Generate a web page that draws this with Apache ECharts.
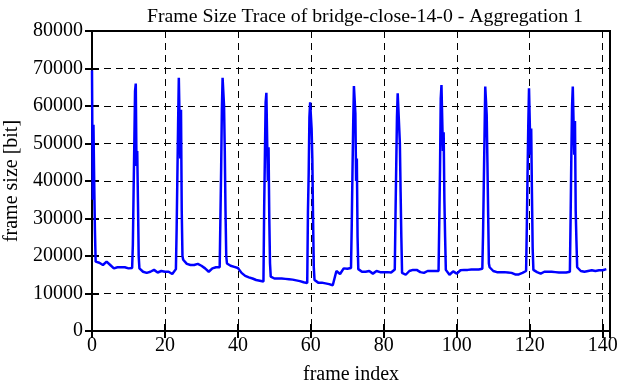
<!DOCTYPE html>
<html>
<head>
<meta charset="utf-8">
<script src="https://cdn.jsdelivr.net/npm/echarts@6/dist/echarts.min.js"></script>
<style>
	html, body { margin: 0; padding: 0; background: #fff; }
	#trace_chart { width: 622px; height: 382px; }
</style>
</head>
<body>
<div id="trace_chart"></div>
<script>
// frame size [bit] at each integer frame index 0..141
var frameSizes = [
	69500, 18500, 18200, 17600, 18500, 17600, 16700, 17000, 17000, 17000,
	16700, 16800, 66000, 16700, 15800, 15500, 15800, 16300, 15600, 16000,
	15800, 15800, 15200, 16500, 67500, 19000, 17900, 17600, 17600, 17900,
	17400, 16700, 15800, 16700, 17000, 17000, 67500, 18000, 17400, 17100,
	16800, 15500, 14700, 14300, 14000, 13600, 13400, 13200, 63500, 14500,
	14000, 14000, 14000, 13900, 13800, 13700, 13500, 13300, 13000, 12800,
	61000, 13600, 12900, 12900, 12700, 12500, 12200, 16000, 15200, 16700,
	16600, 16800, 65300, 16500, 15800, 15800, 16000, 15300, 16000, 15700,
	15700, 15700, 15600, 16400, 63400, 15500, 15000, 16000, 16300, 16300,
	15700, 15500, 16000, 16000, 16000, 16000, 65600, 16300, 15000, 15900,
	15300, 16200, 16300, 16300, 16400, 16400, 16400, 16600, 65200, 17000,
	16000, 15700, 15700, 15700, 15600, 15500, 15100, 15100, 15500, 16000,
	64700, 16300, 15700, 15300, 15800, 15800, 15800, 15700, 15600, 15600,
	15600, 15800, 65200, 17000, 16000, 15800, 16000, 16200, 16000, 16200,
	16200, 16500
];

// I-frame peaks are sampled finer than one point per frame
var peakFrames = [0, 12, 24, 36, 48, 60, 72, 84, 96, 108, 120, 132];
var peakOffsets = [-0.8, -0.6, -0.4, -0.2, 0.2, 0.4, 0.6, 0.8];
var peakSamples = [
	[null, null, null, null, 35000, 55000, 40000, 27000],
	[23000, 37000, 50000, 64000, 44000, 48000, 34500, 20000],
	[27000, 41000, 55000, 67500, 46000, 59000, 32000, 20000],
	[30000, 43000, 59000, 67500, 60000, 48000, 32000, 20000],
	[33000, 47000, 61000, 63500, 40000, 49000, 30000, 18000],
	[32000, 42000, 57000, 61000, 54000, 46000, 30000, 17000],
	[28000, 42000, 55000, 65300, 58000, 40000, 46000, 25000],
	[31000, 44000, 57000, 63400, 63000, 50000, 37000, 25000],
	[29000, 43000, 62000, 65600, 48000, 53000, 35000, 25000],
	[26000, 39000, 52000, 65200, 57600, 45000, 31000, 18000],
	[28000, 42000, 55000, 64700, 47000, 54000, 37000, 22000],
	[30000, 46500, 60000, 65200, 47000, 56000, 32000, 24000]
];

var xTicks = [0, 20, 40, 60, 80, 100, 120, 140];
var yTicks = [0, 10000, 20000, 30000, 40000, 50000, 60000, 70000, 80000];

function buildTrace() {
	var pts = [];
	for (var i = 0; i < frameSizes.length; i++) {
		pts.push([i, frameSizes[i]]);
	}
	for (var p = 0; p < peakFrames.length; p++) {
		for (var k = 0; k < peakOffsets.length; k++) {
			if (peakSamples[p][k] != null) {
				pts.push([+(peakFrames[p] + peakOffsets[k]).toFixed(2), peakSamples[p][k]]);
			}
		}
	}
	pts.sort(function(a, b) { return a[0] - b[0]; });
	return pts;
}

function initChart() {
	var serif = "Liberation Serif";
	var option_trace = {
		animation : false,
		backgroundColor : '#fff',
		title : {
			text : 'Frame Size Trace of bridge-close-14-0 - Aggregation 1',
			left : 142,
			top : 2,
			textStyle : {
				color : '#000',
				fontFamily : serif,
				fontSize : 19.8,
				fontWeight : 'normal'
			}
		},
		grid : {
			left : 92,
			right : 12,
			top : 31,
			bottom : 51,
			containLabel : false,
			outerBoundsMode : 'none',
			show : true,
			borderColor : '#000',
			borderWidth : 2,
			backgroundColor : 'transparent'
		},
		xAxis : [ {
			type : 'value',
			min : 0,
			max : 142,
			interval : 20,
			name : 'frame index',
			nameLocation : 'middle',
			nameGap : 34,
			nameTextStyle : { color : '#000', fontFamily : serif, fontSize : 20 },
			axisLine : { show : false },
			axisTick : { inside : true, length : 7, lineStyle : { color : '#000', width : 2 } },
			axisLabel : {
				color : '#000', fontFamily : serif, fontSize : 20, margin : 5,
				formatter : function(v) { return xTicks.indexOf(v) >= 0 ? String(v) : ''; }
			},
			splitLine : { show : true, lineStyle : { color : '#000', width : 1, type : [7, 5] } }
		}, {
			type : 'value',
			position : 'top',
			min : 0,
			max : 142,
			interval : 20,
			axisLine : { show : false },
			axisTick : { inside : true, length : 7, lineStyle : { color : '#000', width : 2 } },
			axisLabel : { show : false },
			splitLine : { show : false }
		} ],
		yAxis : [ {
			type : 'value',
			min : 0,
			max : 80000,
			interval : 10000,
			name : 'frame size [bit]',
			nameLocation : 'middle',
			nameGap : 70,
			nameTextStyle : { color : '#000', fontFamily : serif, fontSize : 20 },
			axisLine : { show : false },
			axisTick : { inside : true, length : 7, lineStyle : { color : '#000', width : 2 } },
			axisLabel : {
				color : '#000', fontFamily : serif, fontSize : 20, margin : 9,
				formatter : function(v) { return yTicks.indexOf(v) >= 0 ? String(v) : ''; }
			},
			splitLine : { show : true, lineStyle : { color : '#000', width : 1, type : [7, 5] } }
		}, {
			type : 'value',
			position : 'right',
			min : 0,
			max : 80000,
			interval : 10000,
			axisLine : { show : false },
			axisTick : { inside : true, length : 7, lineStyle : { color : '#000', width : 2 } },
			axisLabel : { show : false },
			splitLine : { show : false }
		} ],
		series : [ {
			name : 'frame size',
			type : 'line',
			xAxisIndex : 0,
			yAxisIndex : 0,
			showSymbol : false,
			smooth : false,
			lineStyle : { color : '#0000ff', width : 2.5 },
			data : buildTrace()
		} ]
	};
	window.option_trace = option_trace;

	var myChart = echarts.init(document.getElementById('trace_chart'));
	myChart.setOption(option_trace);
	window.myChart = myChart;
}

initChart();
</script>
</body>
</html>
